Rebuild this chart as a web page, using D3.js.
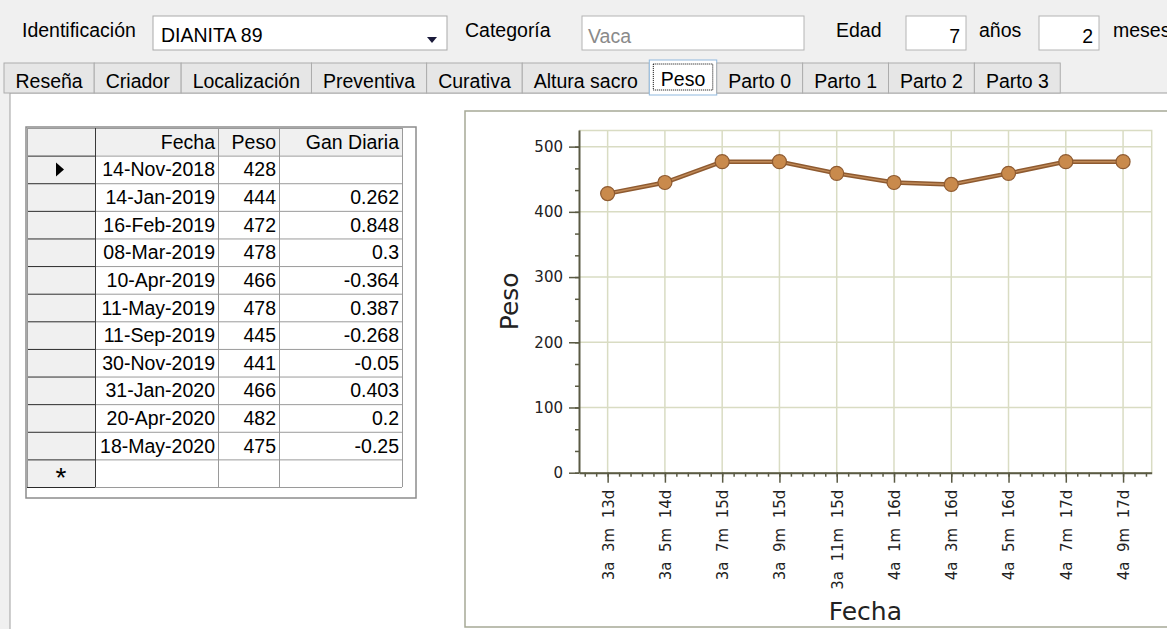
<!DOCTYPE html>
<html>
<head>
<meta charset="utf-8">
<script src="https://cdn.jsdelivr.net/npm/d3@7"></script>
<style>
    body { margin: 0; background: #f0f0f0; }
    svg { display: block; font-family: "Liberation Sans", Arial, sans-serif; }
</style>
</head>
<body>
<svg id="vis" width="1167" height="629"></svg>
<script>
// Datos de la tabla (Peso)
const fechas = ["14-Nov-2018", "14-Jan-2019", "16-Feb-2019", "08-Mar-2019", "10-Apr-2019", "11-May-2019",
    "11-Sep-2019", "30-Nov-2019", "31-Jan-2020", "20-Apr-2020", "18-May-2020"];
const pesos = [428, 444, 472, 478, 466, 478, 445, 441, 466, 482, 475];
const ganDiaria = [null, 0.262, 0.848, 0.3, -0.364, 0.387, -0.268, -0.05, 0.403, 0.2, -0.25];
const columnas = ["Fecha", "Peso", "Gan Diaria"];

// Datos del grafico
const edades = ["3a  3m  13d", "3a  5m  14d", "3a  7m  15d", "3a  9m  15d", "3a  11m  15d",
    "4a  1m  16d", "4a  3m  16d", "4a  5m  16d", "4a  7m  17d", "4a  9m  17d"];
const pesoGrafico = [428, 445, 477, 477, 459, 445, 442, 459, 477, 477];
const yTicks = [0, 100, 200, 300, 400, 500];

// Pestañas
const pestanas = ["Reseña", "Criador", "Localización", "Preventiva", "Curativa", "Altura sacro",
    "Peso", "Parto 0", "Parto 1", "Parto 2", "Parto 3"];
const pestanaActiva = "Peso";

const svg = d3.select("#vis");
const uiFont = 19.5;

// ---------- cabecera del formulario ----------
const head = svg.append("g").attr("font-size", uiFont).attr("fill", "#000");

head.append("text").attr("x", 22).attr("y", 37).text("Identificación");
head.append("rect").attr("x", 153).attr("y", 16).attr("width", 294).attr("height", 34)
    .attr("fill", "#fff").attr("stroke", "#a9a9a9");
head.append("text").attr("x", 161).attr("y", 42).text("DIANITA 89");
head.append("path").attr("d", "M427,37 L437,37 L432,43 Z").attr("fill", "#1a1a3a");

head.append("text").attr("x", 465).attr("y", 37).text("Categoría");
head.append("rect").attr("x", 582).attr("y", 16).attr("width", 222).attr("height", 34)
    .attr("fill", "#fff").attr("stroke", "#b4b4b4");
head.append("text").attr("x", 588).attr("y", 43).attr("fill", "#8a8a8a").text("Vaca");

head.append("text").attr("x", 836).attr("y", 37).text("Edad");
head.append("rect").attr("x", 906).attr("y", 16).attr("width", 60).attr("height", 34)
    .attr("fill", "#fff").attr("stroke", "#b4b4b4");
head.append("text").attr("x", 960).attr("y", 43).attr("text-anchor", "end").text("7");

head.append("text").attr("x", 979).attr("y", 37).text("años");
head.append("rect").attr("x", 1039).attr("y", 16).attr("width", 60).attr("height", 34)
    .attr("fill", "#fff").attr("stroke", "#b4b4b4");
head.append("text").attr("x", 1093).attr("y", 43).attr("text-anchor", "end").text("2");

head.append("text").attr("x", 1113).attr("y", 37).text("meses");

// ---------- pagina de la pestaña ----------
svg.append("rect").attr("x", 10).attr("y", 93).attr("width", 1160).attr("height", 540)
    .attr("fill", "#fff").attr("stroke", "#a0a0a0");

// ---------- pestañas ----------
const tabsG = svg.append("g").attr("font-size", uiFont);
let tabX = 4;
pestanas.forEach((name) => {
    const active = name === pestanaActiva;
    const g = tabsG.append("g");
    const rect = g.append("rect");
    const txt = g.append("text").attr("y", active ? 86 : 88).text(name);
    const w = txt.node().getComputedTextLength() + 23;
    txt.attr("x", tabX + 11.5);
    rect.attr("x", tabX).attr("y", active ? 60 : 63)
        .attr("width", w).attr("height", active ? 35 : 30)
        .attr("fill", active ? "#fff" : "#e6e6e6")
        .attr("stroke", active ? "#8fb8de" : "#acacac");
    if (active) {
        g.append("rect").attr("x", tabX + 4).attr("y", 64).attr("width", w - 8).attr("height", 26)
            .attr("fill", "none").attr("stroke", "#000").attr("stroke-dasharray", "1,1");
    }
    tabX += w;
});

// ---------- tabla ----------
const tabla = svg.append("g").attr("font-size", uiFont);
tabla.append("rect").attr("x", 26).attr("y", 127).attr("width", 390).attr("height", 371)
    .attr("fill", "#fff").attr("stroke", "#8c8c8c").attr("stroke-width", 1.5);

const colEdges = [27, 95, 218, 279, 402];
const filas = d3.range(fechas.length + 2); // cabecera + datos + fila nueva
const yRow = d3.scaleBand().domain(filas).range([128, 487]);
const lineY = (d) => (d < filas.length ? yRow(d) : yRow.range()[1]) + 0.5;

// fondo gris de cabecera y selector de filas
tabla.append("rect").attr("x", colEdges[0]).attr("y", yRow(0))
    .attr("width", colEdges[4] - colEdges[0]).attr("height", yRow.bandwidth()).attr("fill", "#f0f0f0");
tabla.selectAll(".sel").data(filas.slice(1)).join("rect").attr("class", "sel")
    .attr("x", colEdges[0]).attr("y", (d) => yRow(d))
    .attr("width", colEdges[1] - colEdges[0]).attr("height", yRow.bandwidth()).attr("fill", "#f0f0f0");

// lineas horizontales
tabla.selectAll(".hline").data(filas.concat([filas.length])).join("line").attr("class", "hline")
    .attr("x1", colEdges[1]).attr("x2", colEdges[4])
    .attr("y1", lineY).attr("y2", lineY)
    .attr("stroke", "#9a9a9a");
tabla.selectAll(".hsel").data(filas.concat([filas.length])).join("line").attr("class", "hsel")
    .attr("x1", colEdges[0]).attr("x2", colEdges[1])
    .attr("y1", lineY).attr("y2", lineY)
    .attr("stroke", (d) => (d === 0 ? "#9a9a9a" : "#2a2a2a"));
// lineas verticales
tabla.selectAll(".vline").data(colEdges).join("line").attr("class", "vline")
    .attr("x1", (d) => d + 0.5).attr("x2", (d) => d + 0.5)
    .attr("y1", yRow.range()[0]).attr("y2", yRow.range()[1])
    .attr("stroke", (d, i) => (i === 1 ? "#3a3a3a" : "#9a9a9a"));

const textY = (r) => yRow(r) + yRow.bandwidth() / 2 + 7;

// cabecera
tabla.selectAll(".hdr").data(columnas).join("text").attr("class", "hdr")
    .attr("x", (d, i) => colEdges[i + 2] - 3).attr("y", textY(0))
    .attr("text-anchor", "end").text((d) => d);

// filas de datos
fechas.forEach((f, i) => {
    const r = i + 1;
    const vals = [f, pesos[i], ganDiaria[i] === null ? "" : String(ganDiaria[i])];
    vals.forEach((v, c) => {
        tabla.append("text").attr("x", colEdges[c + 2] - 3).attr("y", textY(r))
            .attr("text-anchor", "end").text(v);
    });
});

// selector de fila actual y fila nueva
const r1 = yRow(1) + yRow.bandwidth() / 2;
tabla.append("path").attr("d", `M56,${r1 - 7} L64,${r1} L56,${r1 + 7} Z`).attr("fill", "#000");
tabla.append("text").attr("x", 61).attr("y", textY(filas.length - 1) + 7)
    .attr("text-anchor", "middle").attr("font-size", 28).text("*");

// ---------- grafico ----------
svg.append("rect").attr("x", 465).attr("y", 111).attr("width", 720).attr("height", 516)
    .attr("fill", "#fff").attr("stroke", "#a6a996").attr("stroke-width", 1.5);

const margin = { top: 130, left: 579 };
const width = 572.7;
const height = 342.7;
const chart = svg.append("g").attr("transform", `translate(${margin.left},${margin.top})`);

const xScale = d3.scalePoint().domain(edades).range([0, width]).padding(0.5);
const xIdx = d3.scaleLinear().domain([-0.5, edades.length - 0.5]).range([0, width]);
const yScale = d3.scaleLinear().domain([0, 525.5]).range([height, 0]);

const gridColor = "#d9dcc3";
const axisColor = "#5a5a44";

// rejilla
chart.append("g").selectAll("line").data(yTicks).join("line")
    .attr("x1", 0).attr("x2", width)
    .attr("y1", (d) => yScale(d)).attr("y2", (d) => yScale(d))
    .attr("stroke", gridColor).attr("stroke-width", 1.5);
chart.append("g").selectAll("line").data(edades).join("line")
    .attr("x1", (d) => xScale(d)).attr("x2", (d) => xScale(d))
    .attr("y1", 0).attr("y2", height)
    .attr("stroke", gridColor).attr("stroke-width", 1.5);
chart.append("path").attr("d", `M0,0.5 H${width} V${height}`)
    .attr("fill", "none").attr("stroke", gridColor).attr("stroke-width", 1.5);

// ejes menores
const yMinor = d3.range(0, 16).map((k) => (k * 100) / 3);
chart.append("g").call(d3.axisLeft(yScale).tickValues(yMinor).tickSize(4).tickFormat(""))
    .call((g) => g.select(".domain").remove())
    .selectAll("line").attr("stroke", axisColor).attr("stroke-width", 1.5);
const xMinor = d3.range(-2, 48).map((k) => k / 5);
chart.append("g").attr("transform", `translate(0,${height})`)
    .call(d3.axisBottom(xIdx).tickValues(xMinor).tickSize(4).tickFormat(""))
    .call((g) => g.select(".domain").remove())
    .selectAll("line").attr("stroke", axisColor).attr("stroke-width", 1.5);

// eje Y
const yAxisG = chart.append("g")
    .call(d3.axisLeft(yScale).tickValues(yTicks).tickSize(10).tickPadding(6).tickSizeOuter(0));
yAxisG.select(".domain").attr("stroke", axisColor).attr("stroke-width", 2);
yAxisG.selectAll(".tick line").attr("stroke", axisColor).attr("stroke-width", 1.5);
yAxisG.selectAll("text").attr("font-family", "DejaVu Sans").attr("font-size", 15).attr("fill", "#222");

// eje X
const xAxisG = chart.append("g").attr("transform", `translate(0,${height})`)
    .call(d3.axisBottom(xScale).tickSize(10).tickSizeOuter(0));
xAxisG.select(".domain").attr("stroke", axisColor).attr("stroke-width", 2);
xAxisG.selectAll(".tick line").attr("stroke", axisColor).attr("stroke-width", 1.5);
xAxisG.selectAll("text")
    .attr("font-family", "DejaVu Sans").attr("font-size", 15).attr("fill", "#222")
    .style("white-space", "pre")
    .attr("transform", "rotate(-90)")
    .attr("text-anchor", "end")
    .attr("x", -17).attr("y", 0).attr("dy", "0.36em");

// titulos de ejes
chart.append("text").attr("transform", `translate(${-61},${height / 2}) rotate(-90)`)
    .attr("text-anchor", "middle").attr("font-family", "DejaVu Sans").attr("font-size", 25)
    .attr("fill", "#222").text("Peso");
chart.append("text").attr("x", width / 2).attr("y", 490)
    .attr("text-anchor", "middle").attr("font-family", "DejaVu Sans").attr("font-size", 25)
    .attr("fill", "#222").text("Fecha");

// serie
const puntos = edades.map((e, i) => ({ edad: e, peso: pesoGrafico[i] }));
const linea = d3.line().x((d) => xScale(d.edad)).y((d) => yScale(d.peso));
chart.append("path").datum(puntos).attr("d", linea)
    .attr("fill", "none").attr("stroke", "#8e5a30").attr("stroke-width", 4.5);
chart.append("path").datum(puntos).attr("d", linea)
    .attr("fill", "none").attr("stroke", "#c08a58").attr("stroke-width", 1.5);
chart.selectAll(".pt").data(puntos).join("circle").attr("class", "pt")
    .attr("cx", (d) => xScale(d.edad)).attr("cy", (d) => yScale(d.peso))
    .attr("r", 7).attr("fill", "#c98a4c").attr("stroke", "#8e5a30").attr("stroke-width", 1.2);
</script>
</body>
</html>
